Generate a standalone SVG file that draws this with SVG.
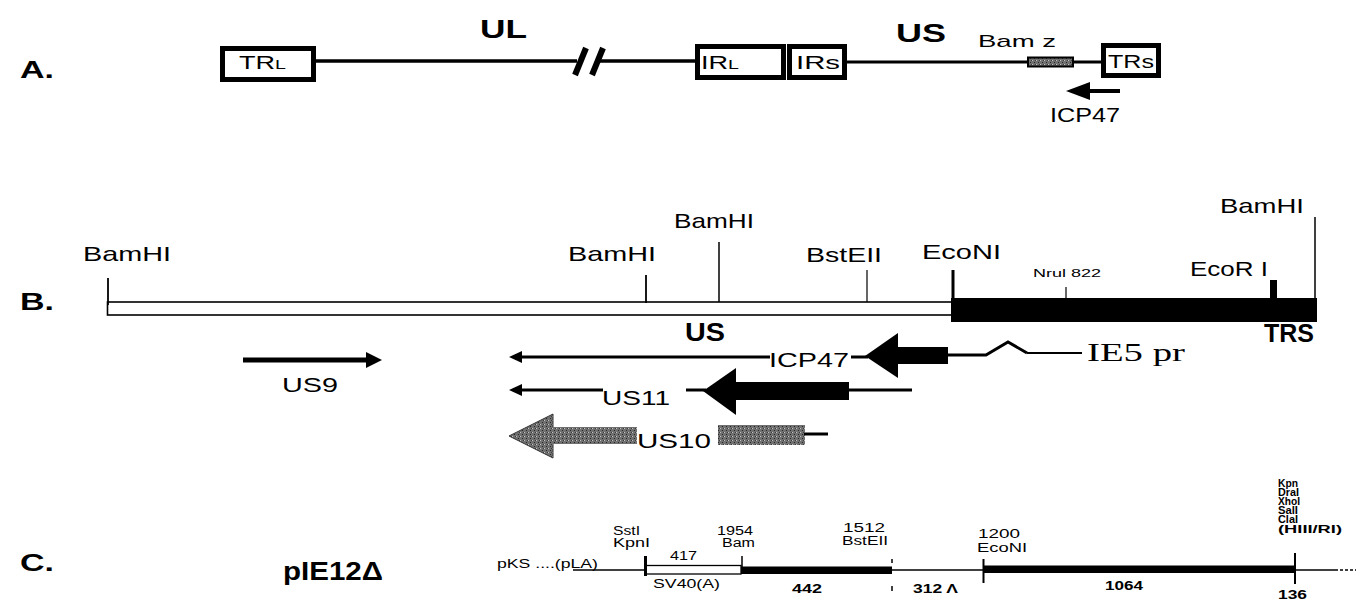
<svg xmlns="http://www.w3.org/2000/svg" width="1360" height="600" viewBox="0 0 1360 600">
<style>
 text{font-family:"Liberation Sans",Arial,Helvetica,sans-serif;fill:#000}
 .sec{font-size:24px;font-weight:bold}
 .big{font-size:26px;font-weight:bold}
 .lbl{font-size:21px}
 .bx{font-size:18px}
 .sm{font-size:11px}
 .c{font-size:12px}
 .cb{font-size:13px;font-weight:bold}
 .cr{font-size:10px;font-weight:bold}
 .serif{font-family:"Liberation Serif","Times New Roman",serif;font-size:26px}
 .box{fill:#fff;stroke:#000;stroke-width:5}
 .ln{stroke:#000;fill:none}
 .blk{fill:#000}
 .gry{fill:url(#stip)}
</style>
<defs>
 <pattern id="stip" width="4" height="4" patternUnits="userSpaceOnUse">
  <rect width="4" height="4" fill="#707070"/>
  <rect x="0" y="0" width="1" height="1" fill="#c4c4c4"/>
  <rect x="2" y="2" width="1" height="1" fill="#262626"/>
  <rect x="3" y="0" width="1" height="1" fill="#3a3a3a"/>
 </pattern>
</defs>

<!-- Section labels -->
<g id="label-A"><text class="sec" x="20" y="78" textLength="34" lengthAdjust="spacingAndGlyphs">A.</text></g>
<g id="label-B"><text class="sec" x="20" y="310" textLength="34" lengthAdjust="spacingAndGlyphs">B.</text></g>
<g id="label-C"><text class="sec" x="20" y="571" textLength="34" lengthAdjust="spacingAndGlyphs">C.</text></g>

<!-- ===== Section A ===== -->
<g id="connectors-A">
 <line class="ln" x1="316" y1="61" x2="577" y2="61" stroke-width="3.5"/>
 <line class="ln" x1="598" y1="61" x2="695" y2="61" stroke-width="3.5"/>
 <line class="ln" x1="575" y1="75" x2="586" y2="48" stroke-width="6"/>
 <line class="ln" x1="592" y1="75" x2="603" y2="48" stroke-width="6"/>
 <line class="ln" x1="847" y1="62" x2="1101" y2="62" stroke-width="3"/>
</g>
<g id="TRL"><rect class="box" x="222.5" y="48.5" width="91" height="31"/>
 <text class="bx" x="239" y="69" textLength="47" lengthAdjust="spacingAndGlyphs">TR<tspan font-size="13">L</tspan></text></g>
<g id="UL"><text class="big" x="480" y="38" textLength="47" lengthAdjust="spacingAndGlyphs">UL</text></g>
<g id="IRL"><rect class="box" x="697.5" y="46.5" width="86" height="31"/>
 <text class="bx" x="701" y="69" textLength="38" lengthAdjust="spacingAndGlyphs">IR<tspan font-size="13">L</tspan></text></g>
<g id="IRs"><rect class="box" x="789.5" y="46.5" width="55" height="31"/>
 <text class="bx" x="796" y="69" textLength="44" lengthAdjust="spacingAndGlyphs">IRs</text></g>
<g id="US-A"><text class="big" x="896" y="42" textLength="50" lengthAdjust="spacingAndGlyphs">US</text></g>
<g id="Bamz"><rect x="1028" y="57.5" width="45" height="9" fill="url(#stip)" stroke="#000" stroke-width="2"/>
 <text x="978" y="47" font-size="17" textLength="78" lengthAdjust="spacingAndGlyphs">Bam z</text></g>
<g id="TRs"><rect class="box" x="1103.5" y="45.5" width="55" height="30"/>
 <text class="bx" x="1108" y="68" textLength="46" lengthAdjust="spacingAndGlyphs">TRs</text></g>
<g id="ICP47-A">
 <polygon class="blk" points="1066,91 1090,82 1090,100"/>
 <rect class="blk" x="1088" y="89" width="32" height="4"/>
 <text x="1050" y="122" font-size="21" textLength="70" lengthAdjust="spacingAndGlyphs">ICP47</text></g>

<!-- ===== Section B ===== -->
<g id="map-B">
 <rect x="107.5" y="302" width="845" height="13" fill="#fff" stroke="#000" stroke-width="1.6"/>
 <rect class="blk" x="951" y="298" width="366" height="24"/>
</g>
<g id="sites-B">
 <line class="ln" x1="108" y1="278" x2="108" y2="305" stroke-width="1.8"/>
 <text class="lbl" x="83" y="261" textLength="88" lengthAdjust="spacingAndGlyphs">BamHI</text>
 <line class="ln" x1="646" y1="275" x2="646" y2="303" stroke-width="1.8"/>
 <text class="lbl" x="568" y="261" textLength="88" lengthAdjust="spacingAndGlyphs">BamHI</text>
 <line class="ln" x1="719" y1="242" x2="719" y2="302" stroke-width="1.5"/>
 <text class="lbl" x="674" y="228" textLength="80" lengthAdjust="spacingAndGlyphs">BamHI</text>
 <line class="ln" x1="867" y1="270" x2="867" y2="302" stroke-width="1.2"/>
 <text class="lbl" x="806" y="262" textLength="76" lengthAdjust="spacingAndGlyphs">BstEII</text>
 <line class="ln" x1="953" y1="270" x2="953" y2="300" stroke-width="3"/>
 <text class="lbl" x="922" y="259" textLength="79" lengthAdjust="spacingAndGlyphs">EcoNI</text>
 <line class="ln" x1="1066" y1="287" x2="1066" y2="299" stroke-width="1.2"/>
 <text class="sm" x="1033" y="277" textLength="68" lengthAdjust="spacingAndGlyphs">Nrul 822</text>
 <rect class="blk" x="1270" y="280" width="7" height="19"/>
 <text class="lbl" x="1190" y="276" textLength="78" lengthAdjust="spacingAndGlyphs">EcoR I</text>
 <line class="ln" x1="1315" y1="217" x2="1315" y2="299" stroke-width="1.5"/>
 <text class="lbl" x="1220" y="213" textLength="84" lengthAdjust="spacingAndGlyphs">BamHI</text>
 <text class="big" x="685" y="341" font-size="22" textLength="40" lengthAdjust="spacingAndGlyphs">US</text>
 <text class="big" x="1264" y="342" font-size="22" textLength="50" lengthAdjust="spacingAndGlyphs">TRS</text>
</g>
<g id="US9">
 <rect class="blk" x="243" y="357.5" width="125" height="5"/>
 <polygon class="blk" points="382,360 366,352 366,368"/>
 <text class="lbl" x="282" y="392" textLength="56" lengthAdjust="spacingAndGlyphs">US9</text>
</g>
<g id="ICP47-B">
 <polygon class="blk" points="509,357 522,351 522,363"/>
 <line class="ln" x1="518" y1="357" x2="770" y2="357" stroke-width="3"/>
 <text class="lbl" x="769" y="367" textLength="80" lengthAdjust="spacingAndGlyphs">ICP47</text>
 <line class="ln" x1="851" y1="357" x2="868" y2="357" stroke-width="3"/>
 <polygon class="blk" points="865,356 898,333 898,378"/>
 <rect class="blk" x="896" y="347" width="52" height="17"/>
 <polyline class="ln" points="947,355 986,355 1008,342 1027,353" stroke-width="3"/>
 <line class="ln" x1="1027" y1="353" x2="1082" y2="353" stroke-width="2"/>
 <text class="serif" x="1087" y="361" textLength="98" lengthAdjust="spacingAndGlyphs">IE5 pr</text>
</g>
<g id="US11">
 <polygon class="blk" points="509,390 522,384 522,396"/>
 <line class="ln" x1="518" y1="390" x2="603" y2="390" stroke-width="3"/>
 <text class="lbl" x="602" y="405" textLength="68" lengthAdjust="spacingAndGlyphs">US11</text>
 <line class="ln" x1="686" y1="390" x2="706" y2="390" stroke-width="3"/>
 <polygon class="blk" points="703,391 736,368 736,415"/>
 <rect class="blk" x="734" y="382" width="115" height="18"/>
 <line class="ln" x1="848" y1="390" x2="912" y2="390" stroke-width="3"/>
</g>
<g id="US10">
 <polygon class="gry" points="509,436 553,414 553,458" stroke="#333" stroke-width="1"/>
 <rect class="gry" x="551" y="427" width="86" height="17"/>
 <text class="lbl" x="637" y="448" textLength="74" lengthAdjust="spacingAndGlyphs">US10</text>
 <rect class="gry" x="718" y="425" width="87" height="20"/>
 <line class="ln" x1="804" y1="434" x2="828" y2="434" stroke-width="3"/>
</g>

<!-- ===== Section C ===== -->
<g id="pIE12">
 <text class="big" x="283" y="580" font-size="23" textLength="100" lengthAdjust="spacingAndGlyphs">pIE12Δ</text>
 <text class="c" x="497" y="568" font-size="13" textLength="101" lengthAdjust="spacingAndGlyphs">pKS ....(pLA)</text>
</g>
<g id="connectors-C">
 <line class="ln" x1="573" y1="570" x2="1338" y2="570" stroke-width="1.3"/>
 <line class="ln" x1="1340" y1="570" x2="1356" y2="570" stroke-width="1.3" stroke-dasharray="3 2"/>
</g>
<g id="SV40">
 <rect x="645" y="565.5" width="96" height="8.5" fill="#fff" stroke="#000" stroke-width="1.3"/>
 <line class="ln" x1="645.5" y1="556" x2="645.5" y2="576" stroke-width="3"/>
 <line class="ln" x1="742" y1="556" x2="742" y2="570" stroke-width="1.5"/>
 <text class="c" x="613" y="535" textLength="27" lengthAdjust="spacingAndGlyphs">SstI</text>
 <text class="c" x="613" y="547" textLength="37" lengthAdjust="spacingAndGlyphs">KpnI</text>
 <text class="c" x="670" y="560" font-size="13" textLength="27" lengthAdjust="spacingAndGlyphs">417</text>
 <text class="c" x="717" y="535" textLength="36" lengthAdjust="spacingAndGlyphs">1954</text>
 <text class="c" x="722" y="547" textLength="33" lengthAdjust="spacingAndGlyphs">Bam</text>
 <text class="c" x="653" y="588" font-size="13" textLength="67" lengthAdjust="spacingAndGlyphs">SV40(A)</text>
</g>
<g id="seg442">
 <rect class="blk" x="741" y="566.5" width="151" height="7.5"/>
 <line class="ln" x1="892" y1="559" x2="892" y2="563" stroke-width="1.5"/>
 <line class="ln" x1="892" y1="586" x2="892" y2="591" stroke-width="1.5"/>
 <text class="cb" x="792" y="593" textLength="30" lengthAdjust="spacingAndGlyphs">442</text>
 <text class="c" x="843" y="532" textLength="42" lengthAdjust="spacingAndGlyphs">1512</text>
 <text class="c" x="842" y="545" textLength="46" lengthAdjust="spacingAndGlyphs">BstEII</text>
 <text class="cb" x="913" y="593" textLength="45" lengthAdjust="spacingAndGlyphs">312 Λ</text>
</g>
<g id="seg1064">
 <rect class="blk" x="983" y="565.5" width="312" height="7.5"/>
 <line class="ln" x1="983.5" y1="559" x2="983.5" y2="583" stroke-width="2"/>
 <line class="ln" x1="1295" y1="553" x2="1295" y2="584" stroke-width="2"/>
 <text class="c" x="978" y="538" textLength="42" lengthAdjust="spacingAndGlyphs">1200</text>
 <text class="c" x="977" y="552" textLength="50" lengthAdjust="spacingAndGlyphs">EcoNI</text>
 <text class="cb" x="1105" y="590" textLength="38" lengthAdjust="spacingAndGlyphs">1064</text>
 <text class="cb" x="1278" y="599" textLength="29" lengthAdjust="spacingAndGlyphs">136</text>
 <text class="cr" x="1278" y="487" textLength="20" lengthAdjust="spacingAndGlyphs">Kpn</text>
 <text class="cr" x="1278" y="496" textLength="21" lengthAdjust="spacingAndGlyphs">DraI</text>
 <text class="cr" x="1278" y="505" textLength="22" lengthAdjust="spacingAndGlyphs">XhoI</text>
 <text class="cr" x="1278" y="514" textLength="20" lengthAdjust="spacingAndGlyphs">SalI</text>
 <text class="cr" x="1278" y="523" textLength="20" lengthAdjust="spacingAndGlyphs">ClaI</text>
 <text class="cr" x="1278" y="533" textLength="64" lengthAdjust="spacingAndGlyphs">(HIII/RI)</text>
</g>
</svg>
